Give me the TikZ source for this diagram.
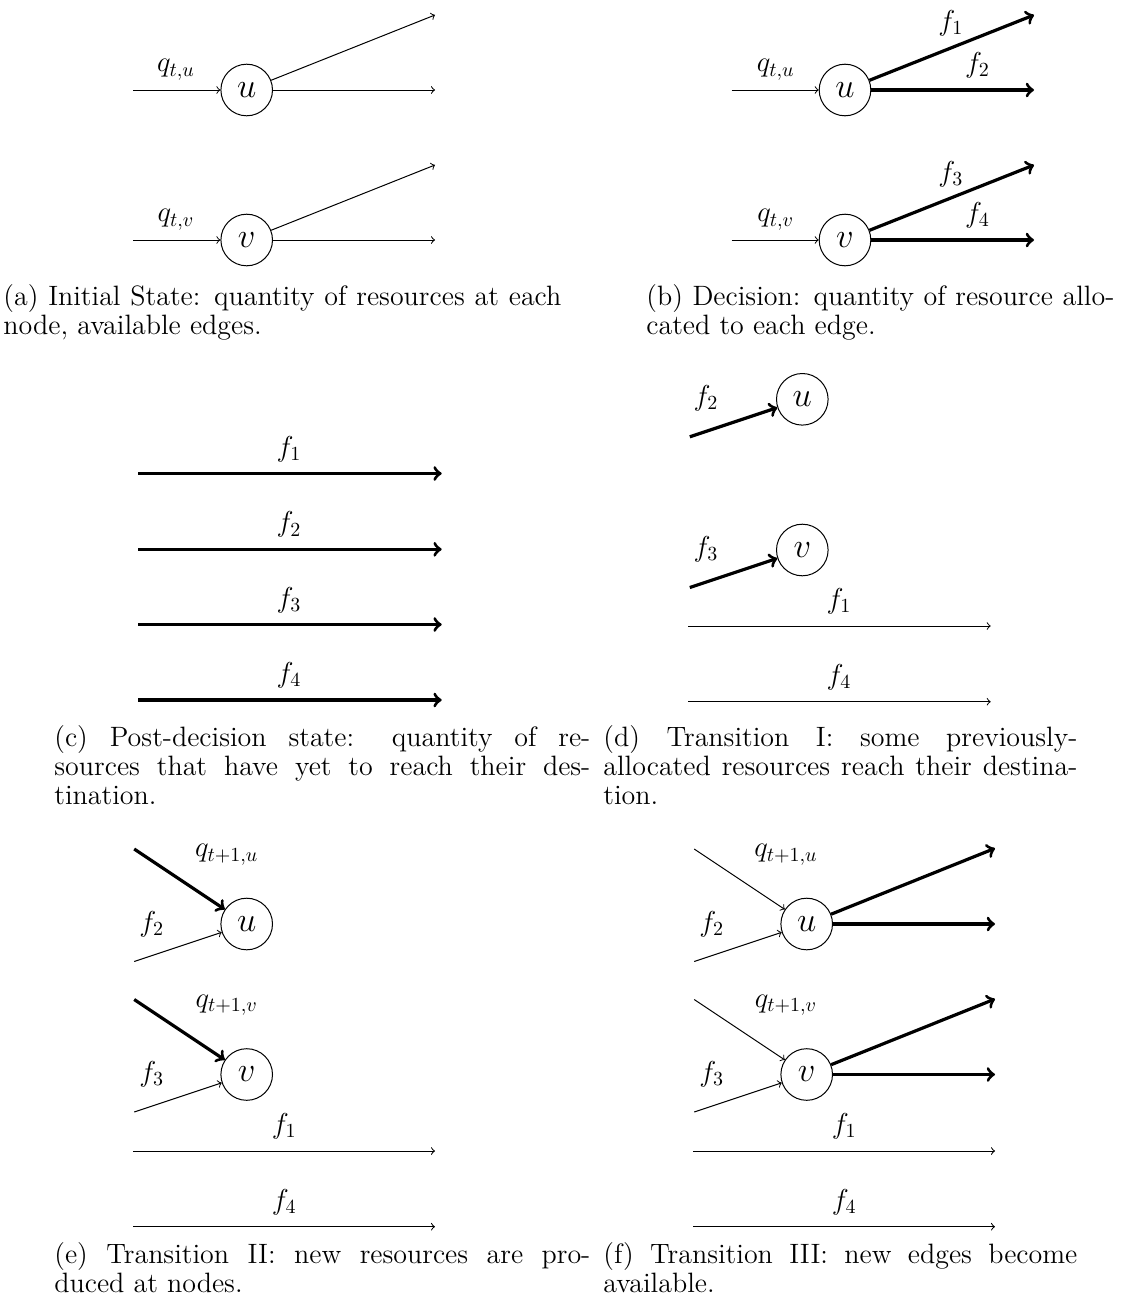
\documentclass[tikz,border=0pt]{standalone}
\begin{document}
\begin{tikzpicture}[x=0.5pt,y=-0.5pt,
  vtx/.style={circle, draw, line width=0.5pt, minimum size=25.8pt, inner sep=0pt, font=\fontsize{17}{20}\selectfont},
  thinarr/.style={->, line width=0.5pt},
  thickarr/.style={->, line width=1.6pt},
  lbl/.style={anchor=base, inner sep=0pt, font=\fontsize{14}{16}\selectfont},
  captxt/.style={anchor=base west, inner sep=0pt, align=left, font=\fontsize{14}{14.5}\selectfont}]
\useasboundingbox (0,0) rectangle (1122,1301);
% ---------- (a)
\node[vtx] (au) at (246.7,90) {$u$};
\node[vtx] (av) at (246.7,240) {$v$};
\coordinate (aui) at (133.3,90);  \coordinate (auo1) at (435,15);  \coordinate (auo2) at (435,90);
\coordinate (avi) at (133.3,240); \coordinate (avo1) at (435,165); \coordinate (avo2) at (435,240);
\draw[thinarr] (aui) -- (au);
\draw[thinarr] (au) -- (auo1);
\draw[thinarr] (au) -- (auo2);
\draw[thinarr] (avi) -- (av);
\draw[thinarr] (av) -- (avo1);
\draw[thinarr] (av) -- (avo2);
\node[lbl] (aql) at (176,71.7) {$q_{t,u}$};
\node[lbl] (aqv) at (176,221.7) {$q_{t,v}$};
\node[captxt] (capa) at (3,334) {\makebox[279pt][s]{(a) Initial State: quantity of resources at each}\\node, available edges.};
% ---------- (b)
\node[vtx] (bu) at (845,90) {$u$};
\node[vtx] (bv) at (845,240) {$v$};
\coordinate (bui) at (731.7,90);  \coordinate (buo1) at (1034,15);  \coordinate (buo2) at (1034,90);
\coordinate (bvi) at (731.7,240); \coordinate (bvo1) at (1034,165); \coordinate (bvo2) at (1034,240);
\draw[thinarr] (bui) -- (bu);
\draw[thickarr] (bu) -- (buo1);
\draw[thickarr] (bu) -- (buo2);
\draw[thinarr] (bvi) -- (bv);
\draw[thickarr] (bv) -- (bvo1);
\draw[thickarr] (bv) -- (bvo2);
\node[lbl] (bql) at (775.8,71.7) {$q_{t,u}$};
\node[lbl] (bqv) at (775.8,221.7) {$q_{t,v}$};
\node[lbl] (bf1) at (950.8,30) {$f_1$};
\node[lbl] (bf2) at (977.5,72) {$f_2$};
\node[lbl] (bf3) at (950.8,181) {$f_3$};
\node[lbl] (bf4) at (977.5,222) {$f_4$};
\node[captxt] (capb) at (646,334) {\makebox[234pt][s]{(b) Decision: quantity of resource allo-}\\cated to each edge.};
% ---------- (c)
\foreach \i/\y in {1/473.5,2/549.3,3/624.5,4/700}{
  \coordinate (cs\i) at (138.3,\y); \coordinate (ce\i) at (441.7,\y);
  \draw[thickarr] (cs\i) -- (ce\i);
  \node[lbl] (cf\i) at (289,\y-17.5) {$f_\i$};
}
\node[captxt] (capc) at (54,804) {\makebox[268pt][s]{(c) Post-decision state: quantity of re-}\\\makebox[268pt][s]{sources that have yet to reach their des-}\\tination.};
% ---------- (d)
\node[vtx] (du) at (802.3,399.3) {$u$};
\node[vtx] (dv) at (802.3,550) {$v$};
\coordinate (dui) at (689.8,436.8); \coordinate (dvi) at (689.8,587.5);
\draw[thickarr] (dui) -- (du);
\draw[thickarr] (dvi) -- (dv);
\coordinate (d1s) at (688.3,626); \coordinate (d1e) at (990.7,626);
\coordinate (d4s) at (688.3,701.7); \coordinate (d4e) at (990.7,701.7);
\draw[thinarr] (d1s) -- (d1e);
\draw[thinarr] (d4s) -- (d4e);
\node[lbl] (df2) at (706,405) {$f_2$};
\node[lbl] (df3) at (706,556) {$f_3$};
\node[lbl] (df1) at (839,608.5) {$f_1$};
\node[lbl] (df4) at (839,684.2) {$f_4$};
\node[captxt] (capd) at (603,804) {\makebox[237pt][s]{(d) Transition I: some previously-}\\\makebox[237pt][s]{allocated resources reach their destina-}\\tion.};
% ---------- (e)
\node[vtx] (eu) at (246.7,924) {$u$};
\node[vtx] (ev) at (246.7,1074.5) {$v$};
\coordinate (euq) at (134.2,849); \coordinate (euf) at (134.2,961.5);
\coordinate (evq) at (134.2,999.5); \coordinate (evf) at (134.2,1112);
\draw[thickarr] (euq) -- (eu);
\draw[thinarr] (euf) -- (eu);
\draw[thickarr] (evq) -- (ev);
\draw[thinarr] (evf) -- (ev);
\coordinate (e1s) at (133.3,1151); \coordinate (e1e) at (435,1151);
\coordinate (e4s) at (133.3,1226.7); \coordinate (e4e) at (435,1226.7);
\draw[thinarr] (e1s) -- (e1e);
\draw[thinarr] (e4s) -- (e4e);
\node[lbl] (eql) at (226.7,856.7) {$q_{t+1,u}$};
\node[lbl] (eqv) at (226.7,1007.2) {$q_{t+1,v}$};
\node[lbl] (ef2) at (151.7,931) {$f_2$};
\node[lbl] (ef3) at (151.7,1081.5) {$f_3$};
\node[lbl] (ef1) at (284.2,1133.5) {$f_1$};
\node[lbl] (ef4) at (284.2,1209.2) {$f_4$};
\node[captxt] (cape) at (54,1292) {\makebox[268pt][s]{(e) Transition II: new resources are pro-}\\duced at nodes.};
% ---------- (f)
\node[vtx] (fu) at (806.7,924) {$u$};
\node[vtx] (fv) at (806.7,1074.5) {$v$};
\coordinate (fuq) at (694.2,849); \coordinate (fuf) at (694.2,961.5);
\coordinate (fvq) at (694.2,999.5); \coordinate (fvf) at (694.2,1112);
\coordinate (fuo1) at (995,848.3); \coordinate (fuo2) at (995,924);
\coordinate (fvo1) at (995,999); \coordinate (fvo2) at (995,1074.5);
\draw[thinarr] (fuq) -- (fu);
\draw[thinarr] (fuf) -- (fu);
\draw[thinarr] (fvq) -- (fv);
\draw[thinarr] (fvf) -- (fv);
\draw[thickarr] (fu) -- (fuo1);
\draw[thickarr] (fu) -- (fuo2);
\draw[thickarr] (fv) -- (fvo1);
\draw[thickarr] (fv) -- (fvo2);
\coordinate (f1s) at (693.3,1151); \coordinate (f1e) at (995,1151);
\coordinate (f4s) at (693.3,1226.7); \coordinate (f4e) at (995,1226.7);
\draw[thinarr] (f1s) -- (f1e);
\draw[thinarr] (f4s) -- (f4e);
\node[lbl] (fql) at (786,856.7) {$q_{t+1,u}$};
\node[lbl] (fqv) at (786,1007.2) {$q_{t+1,v}$};
\node[lbl] (ff2) at (711.7,931) {$f_2$};
\node[lbl] (ff3) at (711.7,1081.5) {$f_3$};
\node[lbl] (ff1) at (844.2,1133.5) {$f_1$};
\node[lbl] (ff4) at (844.2,1209.2) {$f_4$};
\node[captxt] (capf) at (603,1292) {\makebox[237pt][s]{(f) Transition III: new edges become}\\available.};
\end{tikzpicture}
\end{document}
